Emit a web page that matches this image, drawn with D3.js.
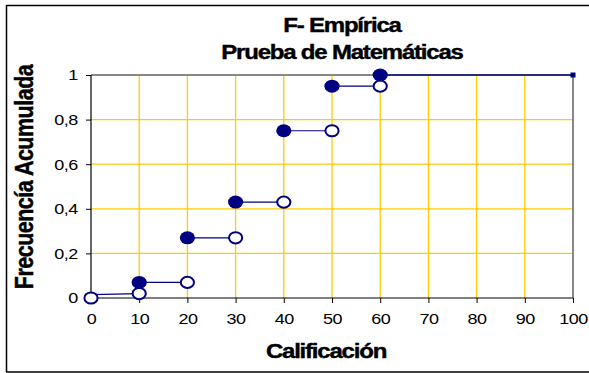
<!DOCTYPE html>
<html>
<head>
<meta charset="utf-8">
<script src="https://cdn.jsdelivr.net/npm/d3@7"></script>
<style>
  html, body { margin: 0; padding: 0; background: #fff; }
  svg { display: block; font-family: "Liberation Sans", Arial, sans-serif; }
</style>
</head>
<body>
<svg id="chart" width="589" height="373"></svg>
<script>
// ---- Data ----
const titleLines = ["F- Empírica", "Prueba de Matemáticas"];
const xLabel = "Calificación";
const yLabel = "Frecuencía Acumulada";
const xTicks = [0, 10, 20, 30, 40, 50, 60, 70, 80, 90, 100];
const yTicks = [0, 0.2, 0.4, 0.6, 0.8, 1];
// filled markers: start of each step (x, cumulative frequency)
const filledX = [10, 20, 30, 40, 50, 60];
const filledY = [0.07, 0.27, 0.43, 0.75, 0.95, 1];
// open markers: end of each step
const openX = [0, 10, 20, 30, 40, 50, 60];
const openY = [0, 0.02, 0.07, 0.27, 0.43, 0.75, 0.95];
// horizontal step segments
const stepStartX = [0, 10, 20, 30, 40, 50];
const stepEndX = [10, 20, 30, 40, 50, 60];
const stepLevel = [0.015, 0.07, 0.27, 0.43, 0.75, 0.95];
// last segment (F = 1 up to 100)
const lastStepX = [60, 100];
const lastStepY = [1, 1];

// ---- Layout ----
const svg = d3.select("#chart");
const pLeft = 91, pRight = 573, pTop = 75, pBottom = 298;
const sx = 1.2; // horizontal stretch of text
const x = d3.scaleLinear().domain([0, 100]).range([pLeft, pRight]);
const y = d3.scaleLinear().domain([0, 1]).range([pBottom, pTop]);
const navy = "#000080";

// outer border (right edge beyond the picture)
svg.append("rect").attr("x", 6.5).attr("y", 5.5).attr("width", 620).attr("height", 366.5)
  .attr("fill", "none").attr("stroke", "#000").attr("stroke-width", 1.5);

// grid
const grid = svg.append("g").attr("stroke", "#FFCC00").attr("stroke-width", 1.3);
grid.selectAll(".gv").data(xTicks.filter(d => d > 0 && d < 100)).join("line")
  .attr("x1", d => x(d)).attr("x2", d => x(d)).attr("y1", pTop).attr("y2", pBottom);
grid.selectAll(".gh").data(yTicks.filter(d => d > 0 && d < 1)).join("line")
  .attr("x1", pLeft).attr("x2", pRight).attr("y1", d => y(d)).attr("y2", d => y(d));

// plot area top/right border (gray)
svg.append("path").attr("d", `M${pLeft},${pTop}H${pRight}V${pBottom}`)
  .attr("fill", "none").attr("stroke", "#888").attr("stroke-width", 2);

// axes
const fmt = d => String(d).replace(".", ",");
const yAxis = svg.append("g").attr("transform", `translate(${pLeft},0)`)
  .call(d3.axisLeft(y).tickValues(yTicks).tickSize(5).tickPadding(6).tickFormat(fmt));
const xAxis = svg.append("g").attr("transform", `translate(0,${pBottom})`)
  .call(d3.axisBottom(x).tickValues(xTicks).tickSize(5).tickPadding(10).tickFormat(d3.format("d")));
[yAxis, xAxis].forEach(a => {
  a.select(".domain").attr("stroke", "#000").attr("stroke-width", 1.2);
  a.selectAll(".tick line").attr("stroke", "#000").attr("stroke-width", 1);
  a.selectAll(".tick text").attr("font-size", 15).attr("fill", "#000")
    .attr("font-family", "Liberation Sans, Arial, sans-serif")
    .attr("letter-spacing", -0.4)
    .attr("transform", `scale(${sx},1)`);
});
yAxis.select(".domain").attr("d", `M0,${pTop}V${pBottom}`);
xAxis.select(".domain").attr("d", `M${pLeft},0H${pRight}`);

// step segments
svg.append("g").selectAll("line").data(stepLevel).join("line")
  .attr("x1", (d, i) => x(stepStartX[i])).attr("x2", (d, i) => x(stepEndX[i]))
  .attr("y1", d => y(d)).attr("y2", (d, i) => y(openY[i + 1]))
  .attr("stroke", navy).attr("stroke-width", 1.2);
svg.append("line")
  .attr("x1", x(lastStepX[0])).attr("x2", x(lastStepX[1]))
  .attr("y1", y(lastStepY[0])).attr("y2", y(lastStepY[1]))
  .attr("stroke", "#2a2a80").attr("stroke-width", 2.2);
svg.append("rect").attr("x", x(lastStepX[1]) - 2.5).attr("y", y(lastStepY[1]) - 2.5)
  .attr("width", 5).attr("height", 5).attr("fill", navy);

// open markers
svg.append("g").selectAll("ellipse").data(openY).join("ellipse")
  .attr("cx", (d, i) => x(openX[i])).attr("cy", d => y(d))
  .attr("rx", 6.6).attr("ry", 5.6)
  .attr("fill", "#fff").attr("stroke", navy).attr("stroke-width", 2);
// filled markers
svg.append("g").selectAll("ellipse").data(filledY).join("ellipse")
  .attr("cx", (d, i) => x(filledX[i])).attr("cy", d => y(d))
  .attr("rx", 7.6).attr("ry", 6.5).attr("fill", navy);

// bold text helper
function boldText(tr, size, txt) {
  return svg.append("text").attr("transform", tr)
    .attr("text-anchor", "middle").attr("font-size", size).attr("font-weight", "bold")
    .attr("letter-spacing", -1).attr("fill", "#000")
    .attr("stroke", "#000").attr("stroke-width", 0.4).text(txt);
}
const titleBase = [32, 59];
titleLines.forEach((t, i) => boldText(`translate(342,${titleBase[i]}) scale(1.2,1)`, 20, t));
boldText(`translate(326,358) scale(1.2,1)`, 20, xLabel);
boldText(`translate(33,177) scale(1.2,1) rotate(-90)`, 21.5, yLabel).attr("letter-spacing", -0.5);
</script>
</body>
</html>
